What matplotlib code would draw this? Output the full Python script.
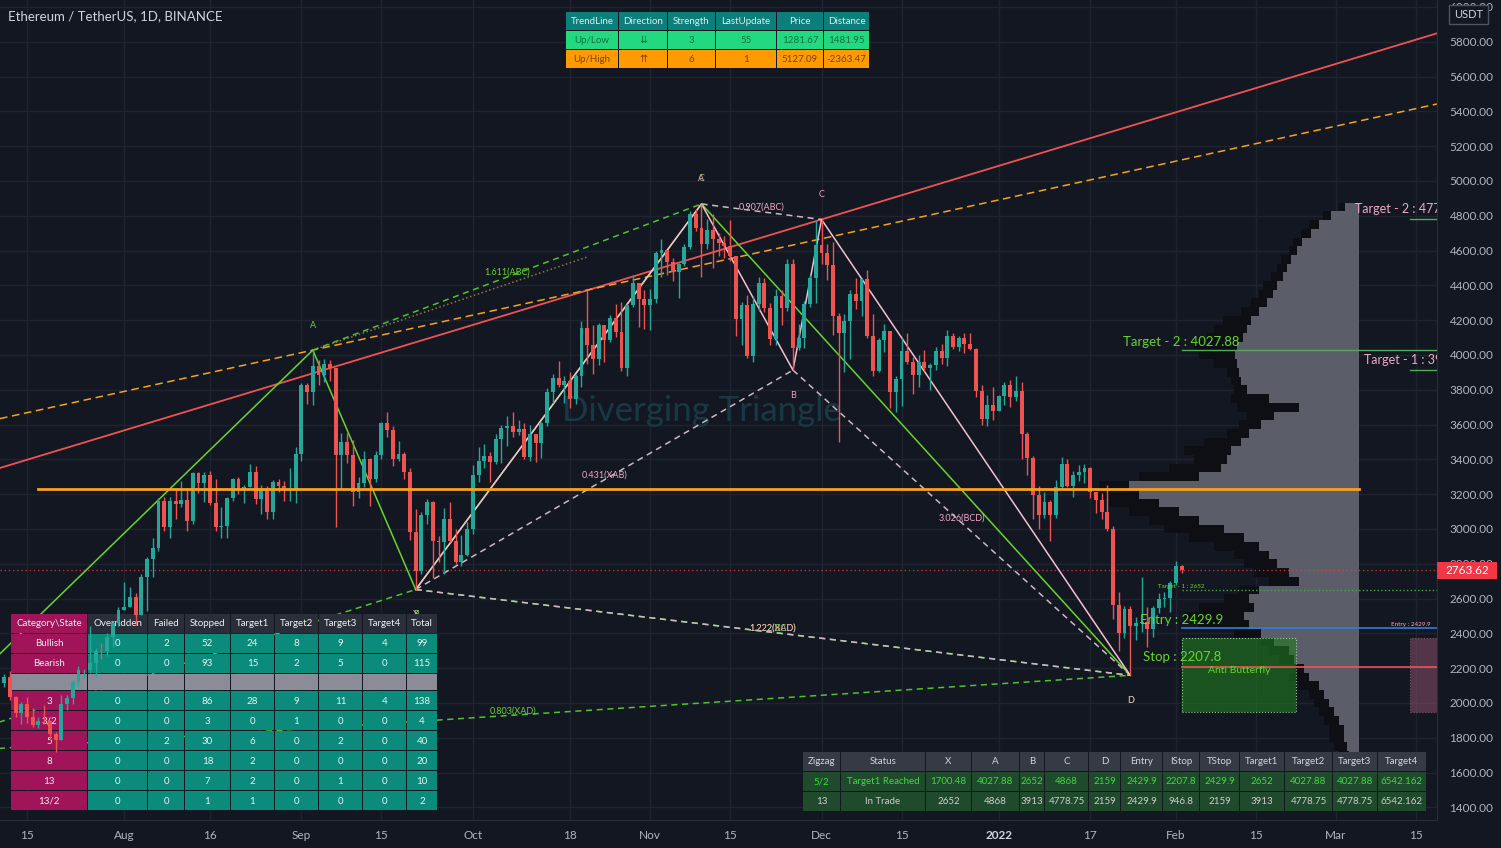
import numpy as np
import matplotlib
matplotlib.use("Agg")
import matplotlib.pyplot as plt
from matplotlib import transforms
from matplotlib.patches import Rectangle

plt.rcParams['font.family'] = ['Lato', 'DejaVu Sans']

W, H = 1501, 848
BG = '#131722'
UP, DOWN = '#26a69a', '#ef5350'
GREEN = '#66d62a'
PINK = '#f2a9c4'
AXIS_TXT = '#b2b5be'
REF = np.datetime64('2021-07-15')

# ---------------- data: ETH/USDT daily, 2021-07-08 .. 2022-02-02 ----------------
first_open = 2321.0
closes = (
    [2114, 2149, 2115, 2147, 2033, 1940, 1995, 1917, 1876, 1898, 1895, 1820, 1787, 1994, 2026, 2123,
     2187, 2190, 2230, 2300, 2297, 2382, 2461, 2535] +
    [2554, 2608, 2505, 2725, 2826, 2890, 3158, 3012, 3163, 3141, 3165, 3045, 3322, 3266, 3310, 3148,
     3012, 3015, 3180, 3285, 3225, 3240, 3325, 3175, 3230, 3100, 3270, 3245, 3225, 3225, 3430] +
    [3825, 3785, 3935, 3885, 3950, 3925, 3425, 3500, 3425, 3210, 3265, 3405, 3285, 3425, 3610, 3570,
     3400, 3430, 3330, 2980, 2760, 3080, 3155, 2930, 2925, 3060, 2930, 2810, 2850, 3000] +
    [3310, 3390, 3420, 3385, 3515, 3580, 3590, 3560, 3575, 3415, 3545, 3495, 3610, 3790, 3870, 3830,
     3850, 3745, 3880, 4155, 4055, 3975, 4170, 4085, 4215, 4130, 3925, 4285, 4415, 4320, 4290] +
    [4320, 4585, 4605, 4535, 4475, 4520, 4620, 4810, 4730, 4635, 4720, 4665, 4645, 4625, 4570, 4205,
     4290, 3995, 4295, 4415, 4270, 4090, 4340, 4270, 4525, 4040, 4095, 4295, 4445, 4630] +
    [4585, 4515, 4225, 4125, 4195, 4350, 4310, 4435, 4110, 3910, 4085, 4135, 3785, 3860, 4020, 3960,
     3885, 3960, 3925, 3940, 4020, 3980, 4110, 4045, 4095, 4065, 4035, 3795, 3630, 3715, 3680] +
    [3765, 3830, 3760, 3795, 3545, 3410, 3195, 3080, 3155, 3080, 3240, 3375, 3245, 3310, 3330, 3350,
     3210, 3165, 3095, 3000, 2565, 2405, 2540, 2440, 2460, 2465, 2425, 2545, 2600, 2605, 2690] +
    [2790, 2763.62]
)
highs = (
    [2323, 2190, 2180, 2165, 2185, 2040, 2005, 2032, 1972, 1920, 1990, 1900, 1835, 2044, 2045, 2130,
     2215, 2195, 2445, 2318, 2345, 2400, 2470, 2550] +
    [2698, 2665, 2630, 2740, 2840, 2950, 3180, 3185, 3185, 3230, 3275, 3235, 3330, 3330, 3325, 3335,
     3290, 3125, 3185, 3295, 3300, 3255, 3375, 3360, 3250, 3245, 3280, 3290, 3275, 3350, 3470] +
    [3840, 3840, 4027.88, 3970, 3975, 3970, 3925, 3550, 3550, 3510, 3300, 3450, 3410, 3450, 3615, 3670,
     3590, 3505, 3445, 3350, 3115, 3095, 3170, 3160, 2960, 3120, 3155, 3000, 2965, 3040] +
    [3370, 3470, 3490, 3440, 3545, 3600, 3650, 3675, 3625, 3610, 3600, 3545, 3615, 3810, 3890, 3965,
     3880, 3905, 3890, 4195, 4375, 4170, 4185, 4175, 4230, 4295, 4305, 4295, 4460, 4390, 4375] +
    [4380, 4600, 4665, 4575, 4560, 4530, 4640, 4825, 4840, 4868, 4780, 4810, 4700, 4685, 4775, 4570,
     4305, 4345, 4340, 4450, 4445, 4300, 4380, 4375, 4550, 4550, 4180, 4310, 4460, 4775] +
    [4778.75, 4640, 4650, 4240, 4235, 4375, 4440, 4445, 4490, 4235, 4095, 4180, 4135, 3880, 4100, 4125,
     3990, 4000, 4030, 3955, 4045, 4065, 4145, 4125, 4110, 4125, 4125, 4040, 3830, 3770, 3815] +
    [3770, 3845, 3855, 3880, 3845, 3555, 3420, 3245, 3215, 3165, 3280, 3415, 3400, 3335, 3370, 3375,
     3355, 3210, 3205, 3255, 3020, 2640, 2560, 2560, 2495, 2725, 2550, 2555, 2630, 2640, 2700] +
    [2815, 2795]
)
lows = (
    [2085, 2049, 2080, 2090, 2015, 1920, 1878, 1885, 1860, 1857, 1880, 1790, 1718, 1787, 1960, 1995,
     2100, 2145, 2170, 2152, 2250, 2270, 2320, 2440] +
    [2550, 2550, 2450, 2505, 2530, 2725, 2875, 2990, 2950, 3055, 3125, 2990, 3030, 3205, 3155, 3140,
     2990, 2950, 2950, 3160, 3200, 3150, 3240, 3145, 3085, 3060, 3060, 3215, 3160, 3160, 3150] +
    [3390, 3720, 3710, 3830, 3845, 3850, 3010, 3230, 3380, 3130, 3180, 3240, 3130, 3270, 3400, 3530,
     3360, 3390, 3290, 2935, 2652, 2740, 3030, 2720, 2810, 2740, 2925, 2800, 2790, 2845] +
    [2970, 3270, 3350, 3270, 3375, 3380, 3475, 3530, 3540, 3400, 3390, 3385, 3410, 3590, 3725, 3815,
     3725, 3695, 3720, 3815, 3950, 3890, 3940, 3960, 4075, 4105, 3910, 3880, 4275, 4160, 4150] +
    [4145, 4300, 4450, 4460, 4425, 4330, 4510, 4610, 4710, 4450, 4610, 4500, 4570, 4560, 4540, 4110,
     4060, 3980, 3960, 4255, 4245, 4060, 4055, 4170, 4250, 3913, 4030, 4040, 4275, 4300] +
    [4525, 4430, 4115, 3500, 3900, 3975, 4265, 4225, 4095, 3880, 3900, 4015, 3695, 3675, 3705, 3950,
     3775, 3815, 3910, 3800, 3915, 3950, 3935, 4035, 4025, 4010, 4030, 3760, 3600, 3590, 3625] +
    [3680, 3715, 3700, 3735, 3400, 3310, 3060, 3000, 3065, 2930, 3065, 3230, 3240, 3185, 3275, 3265,
     3180, 3090, 3055, 2990, 2480, 2300, 2375, 2159, 2360, 2410, 2320, 2380, 2520, 2550, 2525] +
    [2680, 2745]
)
dates = np.arange(np.datetime64('2021-07-08'), np.datetime64('2022-02-03'))
last_price = 2763.62

# harmonic patterns (X, A, B, C, D)
pat1_dates = ['2021-06-22', '2021-09-03', '2021-09-21', '2021-11-10', '2022-01-24']
pat1_prices = [1700.48, 4027.88, 2652, 4868, 2159]
pat2_dates = ['2021-09-21', '2021-11-10', '2021-11-26', '2021-12-01', '2022-01-24']
pat2_prices = [2652, 4868, 3913, 4778.75, 2159]
pat_names = ['X', 'A', 'B', 'C', 'D']

# trend lines (two anchor points each)
red_dates, red_prices = ['2021-07-10', '2021-12-01'], [3348, 4778.75]
orange_dates, orange_prices = ['2021-09-03', '2021-12-01'], [4027.88, 4668]
dotted_dates, dotted_prices = ['2021-09-03', '2021-10-21'], [4027.88, 4563]
level_price, level_dates = 3231, ['2021-07-17', '2022-03-05']

# trade levels
entry, stop, target1, target2 = 2429.9, 2207.8, 2652, 4027.88
p2_target1, p2_target2 = 3913, 4778.75
p2_anchor = '2022-03-14'
box_dates, box_top, box_bottom = ['2022-02-02', '2022-02-22'], 2375, 1947

# volume profile (rows of 50 USDT, arbitrary volume units)
vp_price = list(range(4850, 1650, -50))
vp_total = [20, 36, 50, 58, 66, 70, 78, 82, 88, 96, 100, 108, 118, 136, 145, 152, 165, 160, 145, 132,
            128, 125, 128, 122, 112, 120, 132, 155, 175, 165, 190, 220, 260, 265, 250, 230, 210, 195, 170, 145,
            125, 115, 105, 90, 120, 135, 160, 175, 160, 125, 98, 90, 80, 65, 70, 60, 50, 45, 40, 35,
            30, 30, 25, 20]
vp_up = [14, 28, 40, 48, 57, 62, 68, 72, 76, 82, 86, 92, 100, 108, 112, 116, 122, 124, 122, 120,
         118, 112, 90, 60, 85, 98, 110, 118, 128, 132, 138, 160, 230, 220, 200, 180, 160, 135, 115, 100,
         90, 82, 70, 60, 100, 110, 105, 115, 110, 98, 85, 70, 65, 55, 50, 40, 35, 30, 25, 20,
         15, 15, 12, 10]
vp_end = '2022-03-05'

# tables
trend_header = ['TrendLine', 'Direction', 'Strength', 'LastUpdate', 'Price', 'Distance']
trend_rows = [['Up/Low', '\u21ca', '3', '55', '1281.67', '1481.95'],
              ['Up/High', '\u21c8', '6', '1', '5127.09', '-2363.47']]
stat_header = ['Category\\State', 'Overridden', 'Failed', 'Stopped', 'Target1', 'Target2',
               'Target3', 'Target4', 'Total']
stat_labels = ['Bullish', 'Bearish', '', '3', '3/2', '5', '8', '13', '13/2']
stat_values = [[0, 2, 52, 24, 8, 9, 4, 99], [0, 0, 93, 15, 2, 5, 0, 115], None,
               [0, 0, 86, 28, 9, 11, 4, 138], [0, 0, 3, 0, 1, 0, 0, 4], [0, 2, 30, 6, 0, 2, 0, 40],
               [0, 0, 18, 2, 0, 0, 0, 20], [0, 0, 7, 2, 0, 1, 0, 10], [0, 0, 1, 1, 0, 0, 0, 2]]
zz_header = ['Zigzag', 'Status', 'X', 'A', 'B', 'C', 'D', 'Entry', 'IStop', 'TStop',
             'Target1', 'Target2', 'Target3', 'Target4']
zz_rows = [['5/2', 'Target1 Reached', '1700.48', '4027.88', '2652', '4868', '2159', '2429.9',
            '2207.8', '2429.9', '2652', '4027.88', '4027.88', '6542.162'],
           ['13', 'In Trade', '2652', '4868', '3913', '4778.75', '2159', '2429.9', '946.8',
            '2159', '3913', '4778.75', '4778.75', '6542.162']]

tick_dates = ['2021-07-15', '2021-08-01', '2021-08-16', '2021-09-01', '2021-09-15', '2021-10-01',
              '2021-10-18', '2021-11-01', '2021-11-15', '2021-12-01', '2021-12-15', '2022-01-01',
              '2022-01-17', '2022-02-01', '2022-02-15', '2022-03-01', '2022-03-15']
tick_labels = ['15', 'Aug', '16', 'Sep', '15', 'Oct', '18', 'Nov', '15', 'Dec', '15', '2022',
               '17', 'Feb', '15', 'Mar', '15']


def day(s):
    return int((np.datetime64(s) - REF).astype(int))


# ---------------- figure ----------------
fig = plt.figure(figsize=(W / 100, H / 100), dpi=100, facecolor=BG)
ax = fig.add_axes([0, 28 / H, 1437 / W, 820 / H], facecolor=BG)
px = transforms.Affine2D().scale(1 / W, -1 / H).translate(0, 1) + fig.transFigure

x = (dates - REF).astype(int)
c = np.array(closes, float)
o = np.concatenate([[first_open], c[:-1]])
hi = np.maximum(np.array(highs, float), np.maximum(o, c))
lo = np.minimum(np.array(lows, float), np.minimum(o, c))
cols = np.where(c >= o, UP, DOWN)

ax.vlines(x, lo, hi, colors=cols, lw=1, zorder=3)
ax.bar(x, np.maximum(np.abs(c - o), 4), bottom=np.minimum(o, c), width=0.68, color=cols, lw=0, zorder=3.1)

# volume profile
unit = 1 / 5.716
right = day(vp_end)
tot = np.array(vp_total) * unit
up = np.array(vp_up) * unit
ax.barh(vp_price, tot, left=right - tot, height=50, color='#0d0f15', lw=0, zorder=1)
ax.barh(vp_price, up, left=right - up, height=50, color='#5b5e69', lw=0, zorder=1.1)

# watermark
ax.text(day('2021-11-10'), 3680, 'Diverging Triangle', ha='center', va='center', fontsize=25,
        color='#173944', zorder=1.2)

# trend lines
ax.axline((day(red_dates[0]), red_prices[0]), (day(red_dates[1]), red_prices[1]),
          color='#ef5350', lw=1.3, zorder=2.5)
ax.axline((day(orange_dates[0]), orange_prices[0]), (day(orange_dates[1]), orange_prices[1]),
          color='#f7a21b', lw=1.1, ls=(0, (5, 3)), zorder=2.5)
ax.plot([day(s) for s in dotted_dates], dotted_prices, color='#8c7a3c', lw=1.1, ls=':', zorder=2.5)
ax.plot([day(s) for s in level_dates], [level_price] * 2, color='#f7a21b', lw=2, zorder=4)


def draw_pattern(p_dates, p_prices, line_col, dash_col, lab_col, ratio_col, ratios_shown):
    px_ = [day(s) for s in p_dates]
    ax.plot(px_, p_prices, color=line_col, lw=1.1, zorder=2.6)
    X, A, B, C, D = p_prices
    ratios = {'XAB': (0, 2, abs(A - B) / abs(X - A)), 'ABC': (1, 3, abs(B - C) / abs(A - B)),
              'BCD': (2, 4, abs(C - D) / abs(B - C)), 'XAD': (0, 4, abs(A - D) / abs(X - A))}
    for name, (i, j, r) in ratios.items():
        ax.plot([px_[i], px_[j]], [p_prices[i], p_prices[j]], color=dash_col, lw=1.1,
                ls=(0, (4, 3)), zorder=2.55)
        if name in ratios_shown:
            ax.text((px_[i] + px_[j]) / 2, (p_prices[i] + p_prices[j]) / 2, f'{r:.3f}({name})',
                    ha='center', va='bottom', fontsize=6.5, color=ratio_col, zorder=2.7)
    for k, nm in enumerate(pat_names):
        off = 25 if k % 2 else -25
        ax.annotate(nm, (px_[k], p_prices[k]), xytext=(0, off), textcoords='offset pixels',
                    ha='center', va='center', fontsize=6.5, color=lab_col, zorder=2.7)


# pattern 1's XAB label sits behind the statistics table, so it is not drawn
draw_pattern(pat1_dates, pat1_prices, GREEN, '#4ec32a', GREEN, GREEN, ['ABC', 'BCD', 'XAD'])
draw_pattern(pat2_dates, pat2_prices, '#f5bfd0', '#cdb8c3', '#f0a0c0', PINK, ['XAB', 'ABC', 'BCD', 'XAD'])

# trade levels
xe = day(str(dates[-1]))
x_end = 260
ax.plot([xe, x_end], [target2] * 2, color='#4caf50', lw=1, zorder=4)
ax.plot([xe, x_end], [entry] * 2, color='#2f7fe0', lw=1.2, zorder=4)
ax.plot([xe, x_end], [stop] * 2, color='#ef5350', lw=1.2, zorder=4)
ax.plot([xe, x_end], [target1] * 2, color='#3fae3f', lw=1, ls=':', zorder=4)
ax.axhline(last_price, color='#f23645', lw=1, ls=(0, (1, 2)), alpha=0.8, zorder=2.4)
ax.text(xe, target2 + 12, f'Target - 2 : {target2}', ha='center', va='bottom', fontsize=9.5, color=GREEN, zorder=5)
ax.text(xe, entry + 15, f'Entry : {entry}', ha='center', va='bottom', fontsize=9.5, color=GREEN, zorder=5)
ax.text(xe, stop + 20, f'Stop : {stop}', ha='center', va='bottom', fontsize=9.5, color=GREEN, zorder=5)
ax.text(xe, target1 + 5, f'Target - 1 : {target1}', ha='center', va='bottom', fontsize=4.5, color=GREEN, zorder=5)

xb0, xb1 = day(box_dates[0]), day(box_dates[1])
ax.add_patch(Rectangle((xb0, box_bottom), xb1 - xb0, box_top - box_bottom, facecolor='#1f7a1f',
                       alpha=0.6, edgecolor='none', zorder=2))
ax.add_patch(Rectangle((xb0, box_bottom), xb1 - xb0, box_top - box_bottom, facecolor='none',
                       edgecolor='#8fd08f', lw=0.8, ls=':', zorder=2.1))
ax.text((xb0 + xb1) / 2, 2185, 'Anti Butterfly', ha='center', va='center', fontsize=7.5, color=GREEN, zorder=5)

xp = day(p2_anchor)
ax.add_patch(Rectangle((xp, box_bottom), 30, box_top - box_bottom, facecolor='#a05a78', alpha=0.45,
                       edgecolor='#d090b0', lw=0.8, ls=':', zorder=2))
ax.plot([xp, x_end], [p2_target1] * 2, color='#4caf50', lw=1, zorder=4)
ax.plot([xp, x_end], [p2_target2] * 2, color='#4caf50', lw=1, zorder=4)
ax.text(xp, p2_target2 + 25, f'Target - 2 : {p2_target2}', ha='center', va='bottom', fontsize=9,
        color=PINK, zorder=5, clip_on=True)
ax.text(xp, p2_target1 + 25, f'Target - 1 : {p2_target1}', ha='center', va='bottom', fontsize=9,
        color=PINK, zorder=5, clip_on=True)
ax.text(xp, entry + 5, f'Entry : {entry}', ha='center', va='bottom', fontsize=4.5, color=PINK, zorder=5)

# ---------------- axes styling ----------------
ax.set_xlim(-27 / 5.716, 1410 / 5.716)
ax.set_ylim(1327.6, 6040)
ax.set_xticks([day(s) for s in tick_dates])
ax.set_xticklabels(tick_labels)
ax.set_yticks(np.arange(1400, 6001, 200))
ax.set_yticklabels([f'{v:.2f}' for v in np.arange(1400, 6001, 200)])
ax.yaxis.tick_right()
ax.tick_params(axis='both', length=0, colors=AXIS_TXT, labelsize=8.5)
ax.tick_params(axis='y', pad=9)
ax.tick_params(axis='x', pad=7)
for lab in ax.get_xticklabels():
    if lab.get_text() == '2022':
        lab.set_fontweight('bold')
        lab.set_color('#d1d4dc')
ax.grid(True, color='#1f2330', lw=1, zorder=0)
ax.set_axisbelow(True)
for s in ['top', 'left']:
    ax.spines[s].set_visible(False)
for s in ['right', 'bottom']:
    ax.spines[s].set_color('#2a2e39')

ax.text(8, 16, 'Ethereum / TetherUS, 1D, BINANCE', transform=px, ha='left', va='center',
        fontsize=9.5, color='#d1d4dc', zorder=6)
ax.add_patch(Rectangle((1449, 5), 39, 19, transform=px, facecolor=BG, edgecolor='#50535e', lw=1,
                       clip_on=False, zorder=6))
ax.text(1468.5, 15, 'USDT', transform=px, ha='center', va='center', fontsize=8, color='#d1d4dc', zorder=7)
ax.add_patch(Rectangle((1437, 562), 60, 17, transform=px, facecolor='#f23645', edgecolor='none',
                       clip_on=False, zorder=6))
ax.text(1467, 570.5, f'{last_price}', transform=px, ha='center', va='center', fontsize=8.5,
        color='white', zorder=7)


def draw_table(xs, ys, cells, fills, colors, size, z):
    for i, row in enumerate(cells):
        for j, s in enumerate(row):
            x0, x1, y0, y1 = xs[j], xs[j + 1], ys[i], ys[i + 1]
            ax.add_patch(Rectangle((x0 + 1, y0 + 1), x1 - x0 - 1, y1 - y0 - 1, transform=px,
                                   facecolor=fills[i][j], edgecolor='none', clip_on=False, zorder=z))
            if s:
                ax.text((x0 + x1) / 2 + 0.5, (y0 + y1) / 2 + 1, s, transform=px, ha='center',
                        va='center', fontsize=size, color=colors[i][j], zorder=z + 0.1)


top_x = [565, 618, 667, 715, 776, 823, 869]
top_y = [11, 30, 49, 68]
cells = [trend_header] + trend_rows
fills = [['#0d7f7a'] * 6, ['#22d97f'] * 6, ['#ff9a00'] * 6]
tcol = [['#d9eeee'] * 6, ['#12703f'] * 6, ['#7a4200'] * 6]
draw_table(top_x, top_y, cells, fills, tcol, 7, 6)

stat_x = [10, 87, 147, 184, 230, 274, 318, 362, 406, 437]
stat_y = [613, 633, 653, 673, 690, 710, 730, 750, 770, 790, 810]
cells = [stat_header]
fills = [['#a1145a'] + ['#2a2e39'] * 8]
for lab, vals in zip(stat_labels, stat_values):
    if vals is None:
        cells.append([''] * 9)
        fills.append(['#8a8d98'] * 9)
    else:
        cells.append([lab] + [str(v) for v in vals])
        fills.append(['#a1145a'] + ['#0a8b7c'] * 8)
tcol = [['#eef2f2'] * 9 for _ in cells]
draw_table(stat_x, stat_y, cells, fills, tcol, 7, 2.8)

zz_x = [802, 840, 925, 971, 1019, 1044, 1088, 1120, 1162, 1199, 1239, 1284, 1332, 1377, 1426]
zz_y = [751, 771, 791, 811]
cells = [zz_header] + zz_rows
fills = [['#363a45'] * 14, ['#1f4a2b'] * 14, ['#1f4a2b'] * 14]
tcol = [['#d1d4dc'] * 14, ['#3ddc3d'] * 14, ['#d8c8d0'] * 14]
draw_table(zz_x, zz_y, cells, fills, tcol, 7, 6)

fig.savefig('out.png', dpi=100, facecolor=BG)
